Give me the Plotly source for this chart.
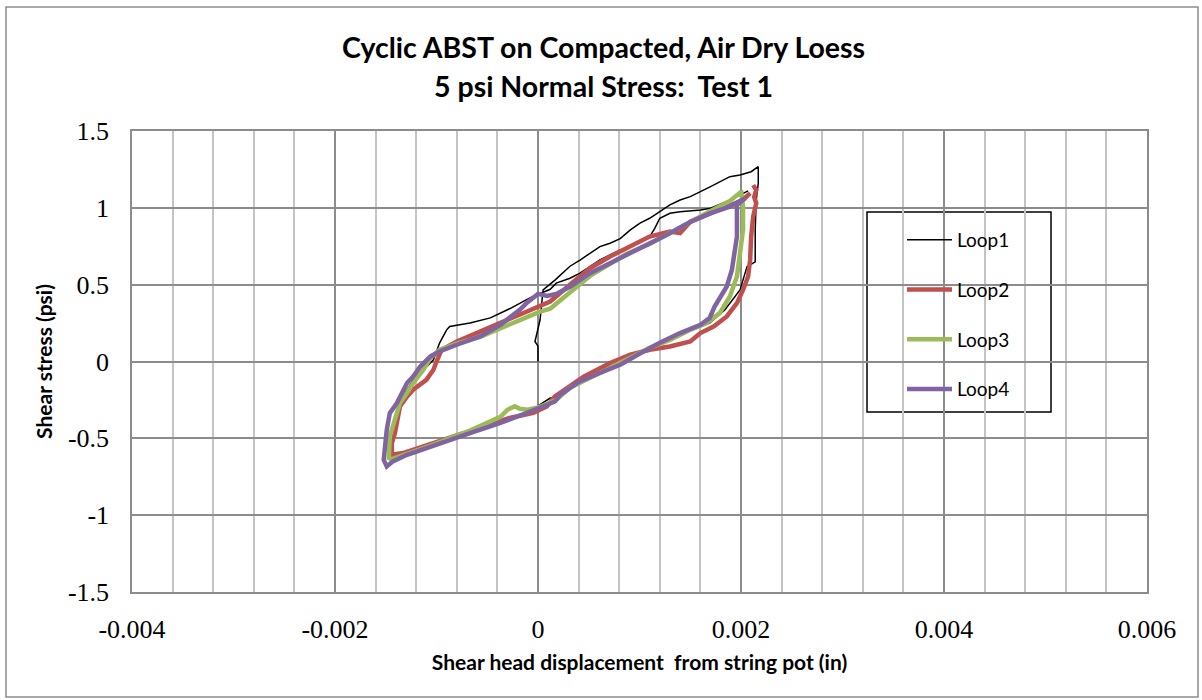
import plotly.graph_objects as go

# ---- data ----
loop1_x = [0.0, 0.0, -0.00003, 0.000003, 0.00002, 0.00004, 0.00005, 0.000167, 0.000315, 0.000414,
           0.000512, 0.00061, 0.00071, 0.00081, 0.00091, 0.001005, 0.0011, 0.0012, 0.0013, 0.0014,
           0.0015, 0.0017, 0.00189, 0.00199, 0.0021, 0.00217, 0.00217, 0.00215, 0.00214, 0.00214,
           0.00206, 0.00202, 0.00199, 0.00184, 0.00169, 0.0016, 0.0014, 0.0012, 0.001, 0.00081,
           0.00061, 0.00041, 0.00022, 0.000167, 0.00012, 0.00002, -0.00008, -0.00028, -0.00041, -0.00047,
           -0.00067, -0.0008, -0.00097, -0.00116, -0.00136, -0.00144, -0.00144, -0.00141, -0.00138, -0.00133,
           -0.00123, -0.00116, -0.00103, -0.00097, -0.0009, -0.00087, -0.00067, -0.00047, -0.00028, -0.00008,
           0.00012, 0.00018, 0.000315, 0.000414, 0.000512, 0.00061, 0.00071, 0.00081, 0.00091, 0.001005,
           0.0011, 0.00115, 0.0012, 0.0013, 0.0014, 0.0016, 0.0017, 0.00189, 0.00207]
loop1_y = [0.0, 0.10, 0.13, 0.21, 0.27, 0.40, 0.466, 0.53, 0.62, 0.66,
           0.705, 0.748, 0.77, 0.80, 0.856, 0.90, 0.932, 0.975, 1.019, 1.051,
           1.073, 1.138, 1.203, 1.214, 1.235, 1.268, 1.16, 1.05, 0.856, 0.648,
           0.618, 0.531, 0.466, 0.336, 0.25, 0.226, 0.173, 0.109, 0.063, -0.008,
           -0.054, -0.119, -0.197, -0.238, -0.238, -0.28, -0.335, -0.37, -0.38, -0.41,
           -0.45, -0.49, -0.515, -0.56, -0.607, -0.626, -0.466, -0.38, -0.29, -0.228,
           -0.12, -0.075, 0.011, 0.12, 0.206, 0.228, 0.25, 0.284, 0.343, 0.414,
           0.47, 0.51, 0.542, 0.575, 0.618, 0.661, 0.694, 0.726, 0.748, 0.78,
           0.813, 0.867, 0.932, 0.965, 0.975, 0.986, 0.997, 1.05, 1.11]

loop2_x = [0.00212, 0.00215, 0.00213, 0.00215, 0.00212, 0.0021, 0.00209, 0.00207, 0.00202, 0.00196,
           0.00186, 0.00173, 0.0016, 0.0015, 0.0013, 0.0011, 0.00091, 0.00071, 0.00045, 0.00025,
           0.000167, 0.000086, -0.000046, -0.00028, -0.00067, -0.00106, -0.00133, -0.00144, -0.00144, -0.00141,
           -0.00139, -0.00138, -0.00136, -0.00129, -0.00123, -0.0011, -0.00103, -0.001, -0.00095, -0.0008,
           -0.00057, -0.00037, -0.00018, 0.00002, 0.00012, 0.000315, 0.000512, 0.00071, 0.00091, 0.0011,
           0.0013, 0.0014, 0.0015, 0.0017, 0.00189, 0.00202, 0.00209]
loop2_y = [1.148, 1.116, 1.071, 1.03, 0.943, 0.813, 0.661, 0.553, 0.466, 0.38,
           0.293, 0.228, 0.185, 0.13, 0.098, 0.076, 0.044, -0.01, -0.098, -0.184,
           -0.228, -0.293, -0.335, -0.368, -0.455, -0.542, -0.596, -0.607, -0.531, -0.466,
           -0.40, -0.358, -0.293, -0.228, -0.184, -0.119, -0.054, 0.0, 0.076, 0.13,
           0.195, 0.25, 0.304, 0.358, 0.39, 0.50, 0.607, 0.683, 0.748, 0.813,
           0.845, 0.835, 0.91, 0.965, 1.019, 1.051, 1.095]

loop3_x = [0.002, 0.00202, 0.00202, 0.00199, 0.00196, 0.00189, 0.00179, 0.00166, 0.0015, 0.0013,
           0.0011, 0.00091, 0.00071, 0.00051, 0.000315, 0.00018, 0.00002, -0.0001, -0.00018, -0.00023,
           -0.0003, -0.00037, -0.00067, -0.00106, -0.00131, -0.00144, -0.00147, -0.00146, -0.00142, -0.00136,
           -0.00129, -0.00123, -0.00113, -0.00106, -0.00097, -0.00077, -0.00057, -0.00037, -0.00018, 0.00002,
           0.00012, 0.000315, 0.000512, 0.00071, 0.00087, 0.0011, 0.0013, 0.0015, 0.0017, 0.00189, 0.002]
loop3_y = [1.115, 1.008, 0.856, 0.683, 0.553, 0.423, 0.315, 0.25, 0.206, 0.141,
           0.089, 0.024, -0.041, -0.10, -0.171, -0.249, -0.295, -0.314, -0.308, -0.291,
           -0.314, -0.36, -0.45, -0.548, -0.607, -0.636, -0.628, -0.488, -0.40, -0.27,
           -0.205, -0.14, -0.054, 0.022, 0.076, 0.122, 0.16, 0.217, 0.271, 0.325,
           0.343, 0.453, 0.557, 0.635, 0.70, 0.765, 0.837, 0.915, 0.98, 1.045, 1.103]

loop4_x = [0.00204, 0.00196, 0.00196, 0.00196, 0.00194, 0.00191, 0.00186, 0.00179, 0.00174, 0.00169,
           0.0016, 0.0014, 0.0012, 0.001, 0.00081, 0.00061, 0.00041, 0.00022, 0.000167, 0.00005,
           -0.00008, -0.00021, -0.00037, -0.00067, -0.00106, -0.00129, -0.00143, -0.00149, -0.00152, -0.00151,
           -0.00149, -0.00146, -0.00139, -0.00134, -0.00129, -0.00123, -0.00116, -0.00106, -0.00097, -0.0008,
           -0.00057, -0.00037, -0.00018, -0.0001, 0.0, 0.00009, 0.00018, 0.000315, 0.000512, 0.00071,
           0.00091, 0.0011, 0.0013, 0.0015, 0.0017, 0.00189, 0.00204]
loop4_y = [1.062, 1.019, 0.921, 0.813, 0.726, 0.596, 0.488, 0.414, 0.358, 0.282,
           0.239, 0.185, 0.122, 0.05, -0.021, -0.075, -0.13, -0.216, -0.26, -0.293,
           -0.325, -0.358, -0.40, -0.466, -0.553, -0.607, -0.65, -0.683, -0.64, -0.553,
           -0.444, -0.336, -0.27, -0.205, -0.14, -0.098, -0.033, 0.033, 0.065, 0.109,
           0.163, 0.239, 0.336, 0.388, 0.44, 0.427, 0.44, 0.486, 0.575, 0.64,
           0.705, 0.77, 0.835, 0.908, 0.965, 1.008, 1.062]

series_names = ["Loop1", "Loop2", "Loop3", "Loop4"]
series_colors = ["#000000", "#C0504D", "#9BBB59", "#8064A2"]
series_widths = [1.5, 4.5, 4.5, 4.5]

x_tickvals = [-0.004, -0.002, 0, 0.002, 0.004, 0.006]
x_ticktext = ["-0.004", "-0.002", "0", "0.002", "0.004", "0.006"]
y_tickvals = [-1.5, -1, -0.5, 0, 0.5, 1, 1.5]
y_ticktext = ["-1.5", "-1", "-0.5", "0", "0.5", "1", "1.5"]

title_line1 = "Cyclic ABST on Compacted, Air Dry Loess"
title_line2 = "5 psi Normal Stress:  Test 1"
x_title = "Shear head displacement  from string pot (in)"
y_title = "Shear stress (psi)"

# ---- figure ----
W, H = 1202, 700
L, R, T, B = 132, 1147, 131, 592  # plot area in pixels
pw, ph = R - L, B - T


def px_x(px):
    return (px - L) / pw


def px_y(py):
    return (B - py) / ph


fig = go.Figure()
xs = [loop1_x, loop2_x, loop3_x, loop4_x]
ys = [loop1_y, loop2_y, loop3_y, loop4_y]
for i in range(4):
    fig.add_trace(go.Scatter(
        x=xs[i], y=ys[i], mode="lines", name=series_names[i],
        legendgroup=series_names[i],
        line=dict(color=series_colors[i], width=series_widths[i]),
    ))

grid_major = "#8C8C8C"
grid_minor = "#C4C4C4"
sans = "Lato, 'Noto Sans', sans-serif"
serif = "'Liberation Serif', 'Times New Roman', serif"

fig.update_layout(
    width=W, height=H,
    margin=dict(l=L, r=W - R, t=T, b=H - B, autoexpand=False),
    paper_bgcolor="white", plot_bgcolor="white",
    showlegend=True,
    legend=dict(
        x=px_x(902), y=px_y(221), xanchor="left", yanchor="top",
        bgcolor="rgba(0,0,0,0)", borderwidth=0,
        font=dict(family=sans, size=19, color="black"),
        tracegroupgap=22, itemwidth=45,
    ),
    xaxis=dict(
        range=[-0.004, 0.006], tickmode="array", tickvals=x_tickvals, ticktext=x_ticktext,
        showgrid=True, gridcolor=grid_major, gridwidth=1.5, zeroline=False,
        showline=True, linecolor=grid_major, linewidth=1.5, mirror=True,
        ticks="", ticklabelstandoff=13,
        tickfont=dict(family=serif, size=26, color="black"),
        minor=dict(tickmode="linear", tick0=0, dtick=0.0004, showgrid=True,
                   gridcolor=grid_minor, gridwidth=1.5, ticks=""),
        title=dict(text=x_title, font=dict(family=sans, size=21, color="black", weight="bold"),
                   standoff=12),
        fixedrange=True,
    ),
    yaxis=dict(
        range=[-1.5, 1.5], tickmode="array", tickvals=y_tickvals, ticktext=y_ticktext,
        showgrid=True, gridcolor=grid_major, gridwidth=1.5, zeroline=False,
        showline=True, linecolor=grid_major, linewidth=1.5, mirror=True,
        ticks="", ticklabelstandoff=16,
        tickfont=dict(family=serif, size=26, color="black"),
        title=dict(text=y_title, font=dict(family=sans, size=21, color="black", weight="bold"),
                   standoff=10),
        fixedrange=True,
    ),
    shapes=[
        # legend box
        dict(type="rect", xref="paper", yref="paper",
             x0=px_x(867), x1=px_x(1051), y0=px_y(412), y1=px_y(212),
             line=dict(color="black", width=1.5), fillcolor="white", layer="below"),
        # outer chart border
        dict(type="rect", xref="paper", yref="paper",
             x0=px_x(6), x1=px_x(1198), y0=px_y(697), y1=px_y(7),
             line=dict(color="#8C8C8C", width=1.5), fillcolor="rgba(0,0,0,0)", layer="above"),
    ],
    annotations=[
        dict(text=title_line1, xref="paper", yref="paper", x=px_x(603), y=px_y(47),
             xanchor="center", yanchor="middle", showarrow=False,
             font=dict(family=sans, size=28.5, color="black", weight="bold")),
        dict(text=title_line2, xref="paper", yref="paper", x=px_x(603), y=px_y(86),
             xanchor="center", yanchor="middle", showarrow=False,
             font=dict(family=sans, size=28.5, color="black", weight="bold")),
    ],
)

fig.write_html("out.html", config={"displayModeBar": False},
               post_script="document.body.style.margin='0px';")
